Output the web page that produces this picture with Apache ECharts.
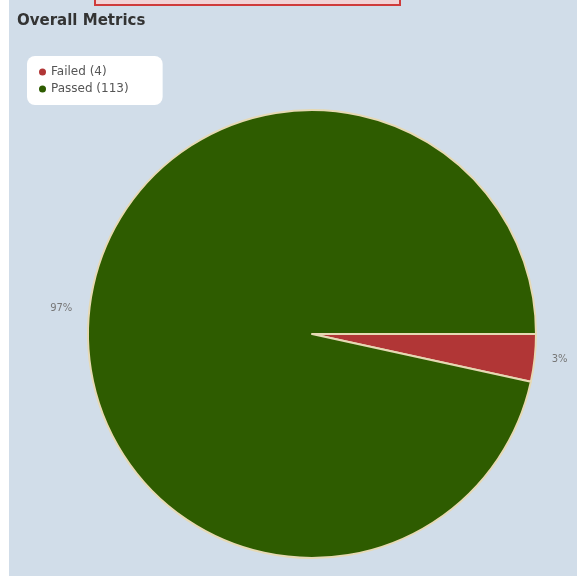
<!DOCTYPE html>
<html><head><meta charset="utf-8">
<script src="https://cdn.jsdelivr.net/npm/echarts@6/dist/echarts.min.js"></script>
<style>html,body{margin:0;padding:0;background:#fff}#c{width:577px;height:579px}</style>
</head><body><div id="c"></div>
<script>
const categories = ['Failed (4)', 'Passed (113)'];
const values = [4, 113];
const colors = ['#b13636', '#2e5c00'];

const chart = echarts.init(document.getElementById('c'));
chart.setOption({
  backgroundColor: '#ffffff',
  animation: false,
  graphic: [
    {type:'rect', z:-10, shape:{x:9, y:0, width:568, height:576}, style:{fill:'#d1dde9'}},
    {type:'rect', z:-9, shape:{x:95, y:-10, width:305, height:15}, style:{fill:'#f2d3d6', stroke:'#cf3b3b', lineWidth:2}}
  ],
  title: {text:'Overall Metrics', left:12, top:9, textStyle:{fontSize:15, fontWeight:'bold', color:'#333', fontFamily:'DejaVu Sans'}},
  legend: {
    orient:'vertical', left:27, top:56, backgroundColor:'#ffffff', borderRadius:8,
    padding:[10,34,10,12], itemGap:5, icon:'circle', itemWidth:7, itemHeight:7,
    itemStyle:{borderWidth:0},
    textStyle:{fontSize:12, color:'#555', fontFamily:'DejaVu Sans'},
    data: categories
  },
  series: [{
    type:'pie', center:[312,334], radius:224, startAngle:0, clockwise:true,
    avoidLabelOverlap:false,
    data: categories.map((c,i)=>({name:c, value:values[i], itemStyle:{color:colors[i]}})),
    itemStyle:{borderColor:'#e6d9b4', borderWidth:2},
    label:{show:true, position:'outside', overflow:'none', formatter:(p)=>Math.round(p.percent)+'%', fontSize:10, color:'#777', fontFamily:'DejaVu Sans'},
    labelLine:{show:false, length:12, length2:0},
    emphasis:{disabled:true}
  }]
});
</script></body></html>
